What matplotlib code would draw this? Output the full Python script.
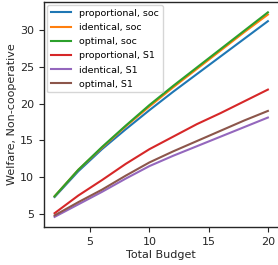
import matplotlib
matplotlib.use("Agg")
import matplotlib.pyplot as plt

budget = [2, 4, 6, 8, 10, 12, 14, 16, 18, 20]
prop_soc = [7.3, 10.8, 13.8, 16.5, 19.1, 21.6, 24.0, 26.4, 28.8, 31.2]
ident_soc = [7.4, 11.0, 14.0, 16.9, 19.6, 22.2, 24.7, 27.2, 29.7, 32.1]
opt_soc = [7.4, 11.0, 14.1, 17.0, 19.8, 22.4, 24.9, 27.4, 29.9, 32.4]
prop_s1 = [5.1, 7.5, 9.6, 11.8, 13.8, 15.5, 17.2, 18.7, 20.3, 21.9]
ident_s1 = [4.6, 6.3, 8.0, 9.8, 11.5, 12.9, 14.2, 15.5, 16.8, 18.1]
opt_s1 = [4.8, 6.6, 8.3, 10.2, 12.0, 13.5, 14.9, 16.3, 17.7, 19.0]

series = [
    ("proportional, soc", prop_soc),
    ("identical, soc", ident_soc),
    ("optimal, soc", opt_soc),
    ("proportional, S1", prop_s1),
    ("identical, S1", ident_s1),
    ("optimal, S1", opt_s1),
]

plt.rcParams['font.family'] = ['DejaVu Sans']
fig = plt.figure(figsize=(2.78, 2.65), dpi=100)
ax = fig.add_axes([0.158, 0.143, 0.844, 0.849])
for label, vals in series:
    ax.plot(budget, vals, label=label, lw=1.5)

ax.set_xticks([5, 10, 15, 20])
ax.set_yticks([5, 10, 15, 20, 25, 30])
ax.tick_params(labelsize=8, colors='#262626', length=3.5, width=0.8)
for s in ax.spines.values():
    s.set_color('#262626')
    s.set_linewidth(1.0)
ax.set_xlabel("Total Budget", fontsize=8, color='#262626', labelpad=2)
ax.set_ylabel("Welfare, Non-cooperative", fontsize=8, color='#262626', labelpad=2)
ax.legend(loc='upper left', fontsize=6.8, frameon=True, edgecolor='#cccccc',
          handlelength=2.2, borderpad=0.4, labelspacing=0.55, borderaxespad=0.3)
fig.savefig("out.png", dpi=100)
